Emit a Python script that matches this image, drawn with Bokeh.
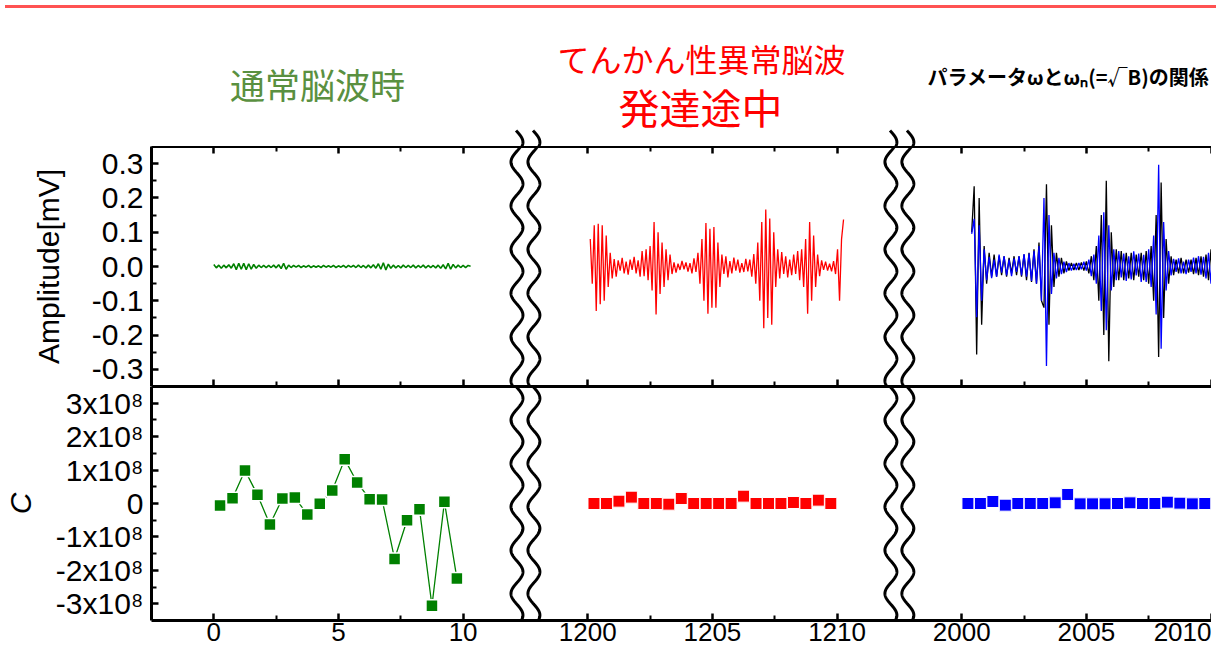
import numpy as np
from bokeh.plotting import figure
from bokeh.models import (Range1d, LinearAxis, FixedTicker, CustomJSTickFormatter,
                          Label, Div)
from bokeh.layouts import column
from bokeh.embed import file_html
from bokeh.resources import INLINE

# ---------------- data ----------------
# broken time axis: three segments, each drawn at its own display offset
SEG_STARTS = [0.0, 1200.0, 2000.0]
SEG_SHIFT = [0.0, 15.0, 30.0]
BREAKS = [12.5, 27.5]

X_MAJOR = [0, 5, 10, 1200, 1205, 1210, 2000, 2005, 2010]
X_MINOR = [2.5, 7.5, 1202.5, 1207.5, 2002.5, 2007.5]
AMP_TICKS = [-0.3, -0.2, -0.1, 0.0, 0.1, 0.2, 0.3]
AMP_MINOR = [-0.25, -0.15, -0.05, 0.05, 0.15, 0.25]
C_TICKS = [-3e8, -2e8, -1e8, 0.0, 1e8, 2e8, 3e8]
C_MINOR = [-2.5e8, -1.5e8, -0.5e8, 0.5e8, 1.5e8, 2.5e8]

# normal EEG (green)
normal_t0, normal_dt = 0.0, 0.1
normal_amp = [0.006, -0.004, 0.004, -0.005, 0.004, -0.004, 0.005, -0.005,
              0.008, -0.009, 0.009, -0.008, 0.009, -0.009, 0.008, -0.008, 0.006, -0.005,
              0.004, -0.003, 0.003, -0.003, 0.003, -0.003, 0.004, -0.004, 0.005, -0.006,
              0.009, -0.008, 0.004,
              -0.003, 0.003, -0.002, 0.003, -0.003, 0.002, -0.002, 0.003, -0.003, 0.002,
              -0.002, 0.002, -0.003, 0.003, -0.002, 0.002, -0.002, 0.003, -0.003, 0.002,
              -0.002, 0.003, -0.003, 0.003, -0.002, 0.003, -0.003, 0.004, -0.003, 0.003,
              -0.004, 0.004, -0.004, 0.005, -0.005,
              0.008, -0.008, 0.011, -0.010, 0.007, -0.005,
              0.004, -0.004, 0.003, -0.004, 0.004, -0.003, 0.003, -0.003, 0.004, -0.004,
              0.003, -0.003, 0.004, -0.004, 0.003, -0.003, 0.003, -0.004, 0.004, -0.005, 0.005,
              -0.007, 0.009, -0.008, 0.006,
              -0.004, 0.004, -0.003, 0.003, -0.003, 0.003, 0.001]

# epileptic EEG during development (red)
epi_t0, epi_dt = 1200.1, 0.08
epi_amp = [0.08, -0.05, 0.12, -0.13, 0.125, -0.11, 0.12, -0.10, 0.09, -0.06,
           0.04, -0.035, 0.022, -0.03, 0.018, -0.012, 0.025, -0.02, 0.014, -0.024,
           0.02, -0.01, 0.028, -0.02, 0.018, -0.03, 0.045, -0.028,
           0.05, -0.04, 0.06, -0.07, 0.13, -0.14, 0.10, -0.08, 0.07, -0.06, 0.05, -0.04, 0.035,
           -0.022, 0.012, -0.018, 0.008, -0.01, 0.016, -0.008, 0.012, -0.015, 0.01, -0.02, 0.024, -0.016,
           0.04, -0.05, 0.08, -0.10, 0.127, -0.138, 0.11, -0.12, 0.115, -0.12, 0.07, -0.06,
           0.035, -0.022, 0.03, -0.032, 0.016, -0.02, 0.026, -0.012, 0.02, -0.018, 0.01, -0.016,
           0.022, -0.014, 0.02, -0.03, 0.036,
           -0.05, 0.07, -0.10, 0.13, -0.18, 0.166, -0.15, 0.14, -0.17, 0.10, -0.06,
           0.05, -0.035, 0.042, -0.022, 0.03, -0.032, 0.02, -0.025, 0.035, -0.022, 0.045, -0.04, 0.05,
           -0.06, 0.08, -0.138, 0.13, -0.10, 0.09, -0.06,
           0.035, -0.028, 0.018, -0.01, 0.014, -0.012, 0.008, -0.014, 0.016, -0.022,
           0.05, -0.10, 0.08, 0.137]

# parameter fit: measured (black) and model (blue)
par_t0, par_dt = 2000.4, 0.1
par_eeg = [0.10, 0.234, -0.257, 0.20, -0.17, 0.06,
           -0.05, 0.04, -0.03, 0.035, -0.03, 0.03, -0.025, 0.03, -0.03, 0.025,
           -0.02, 0.03, -0.025, 0.03, -0.03, 0.035, -0.04, 0.04, -0.045, 0.05,
           -0.05, 0.07, -0.10, -0.12, 0.24, -0.17, 0.12, -0.06,
           0.04, -0.03, 0.025, -0.02, 0.015, -0.012, 0.01, -0.01, 0.01, -0.01,
           0.012, -0.012, 0.015, -0.02, 0.03, -0.04,
           0.06, -0.10, 0.15, -0.20, 0.25, -0.276, 0.10,
           -0.06, 0.05, -0.04, 0.045, -0.04, 0.04, -0.035, 0.04, -0.04, 0.035,
           -0.03, 0.04, -0.04, 0.045, -0.05, 0.06,
           -0.10, 0.15, -0.264, 0.245, -0.15, 0.08,
           -0.05, 0.03, -0.025, 0.02, -0.02, 0.025, -0.02, 0.02, -0.018, 0.02,
           -0.022, 0.025, -0.025, 0.03, -0.03, 0.035, -0.04,
           0.05, -0.10, 0.12, -0.20]
par_fit = [0.095, 0.139, -0.148, 0.12, -0.10, 0.05,
           -0.04, 0.028, -0.034, 0.02, -0.03, 0.035, -0.018, 0.03, -0.026, 0.02,
           -0.028, 0.024, -0.016, 0.03, -0.026, 0.036, -0.03, 0.038, -0.042, 0.045,
           -0.05, 0.06, -0.10, 0.20, -0.29, 0.15, -0.08, 0.04,
           -0.035, 0.025, -0.022, 0.014, -0.016, 0.01, -0.012, 0.008, -0.01, 0.01,
           -0.008, 0.014, -0.012, 0.02, -0.028, 0.035,
           -0.05, 0.09, -0.13, 0.158, -0.186, 0.12, -0.07,
           0.05, -0.04, 0.045, -0.032, 0.038, -0.042, 0.03, -0.038, 0.044, -0.026,
           0.038, -0.045, 0.034, -0.045, 0.05, -0.06,
           0.09, -0.14, 0.297, -0.24, 0.13, -0.07,
           0.045, -0.026, 0.022, -0.016, 0.024, -0.02, 0.014, -0.022, 0.02, -0.016,
           0.026, -0.02, 0.03, -0.024, 0.028, -0.035, 0.04,
           -0.05, 0.09, -0.11, 0.13]

# parameter C
c_normal_t = [0.25, 0.75, 1.25, 1.75, 2.25, 2.75, 3.25, 3.75, 4.25, 4.75,
              5.25, 5.75, 6.25, 6.75, 7.25, 7.75, 8.25, 8.75, 9.25, 9.75]
c_normal = [-0.06e8, 0.16e8, 0.99e8, 0.26e8, -0.63e8, 0.15e8, 0.18e8, -0.33e8, -0.01e8, 0.39e8,
            1.32e8, 0.63e8, 0.13e8, 0.12e8, -1.66e8, -0.50e8, -0.17e8, -3.06e8, 0.05e8, -2.24e8]
c_epi_t = [1200.25, 1200.75, 1201.25, 1201.75, 1202.25, 1202.75, 1203.25, 1203.75, 1204.25, 1204.75,
           1205.25, 1205.75, 1206.25, 1206.75, 1207.25, 1207.75, 1208.25, 1208.75, 1209.25, 1209.75]
c_epi = [0.0, 0.0, 0.07e8, 0.19e8, 0.0, 0.0, -0.02e8, 0.15e8, 0.0, 0.0,
         0.0, 0.0, 0.22e8, 0.0, 0.0, 0.0, 0.03e8, 0.0, 0.10e8, 0.0]
c_par_t = [2000.25, 2000.75, 2001.25, 2001.75, 2002.25, 2002.75, 2003.25, 2003.75, 2004.25, 2004.75,
           2005.25, 2005.75, 2006.25, 2006.75, 2007.25, 2007.75, 2008.25, 2008.75, 2009.25, 2009.75]
c_par = [0.0, 0.0, 0.06e8, -0.05e8, 0.0, 0.0, 0.0, 0.02e8, 0.27e8, -0.01e8,
         -0.01e8, -0.01e8, 0.0, 0.02e8, 0.0, 0.0, 0.04e8, 0.01e8, -0.01e8, 0.0]

TITLE_NORMAL = "通常脳波時"
TITLE_EPI_1 = "てんかん性異常脳波"
TITLE_EPI_2 = "発達途中"
TITLE_PAR = "パラメータωとωₙ(=√B)の関係"

# ---------------- styles / layout ----------------
GREEN, RED, BLUE, BLACK = "#008000", "#ff0000", "#0000ff", "#000000"
TICK_FONT = "Liberation Sans"
CJK_FONT = "Noto Sans CJK JP"
W = 1211
LEFT = 148
PX_PER_UNIT = 25.0
X_START = -2.5
BAR_H = 3
TITLE_H = 133
TOP_H = 240
BOT_H = 266
BOT_AXIS = 32


def seg_of(t):
    return 0 if t < 600 else (1 if t < 1600 else 2)


def disp(t):
    t = np.asarray(t, dtype=float)
    s = seg_of(float(t.flat[0]))
    return t - SEG_STARTS[s] + SEG_SHIFT[s]


def times(t0, dt, vals):
    return t0 + dt * np.arange(len(vals))


x_range = Range1d(X_START, X_START + (W - LEFT) / PX_PER_UNIT)

x_ticker = FixedTicker(ticks=[float(disp([t])[0]) for t in X_MAJOR],
                       minor_ticks=[float(disp([t])[0]) for t in X_MINOR])
x_fmt = CustomJSTickFormatter(args=dict(starts=SEG_STARTS, shifts=SEG_SHIFT, breaks=BREAKS), code="""
    let s = 0;
    for (let i = 0; i < breaks.length; i++) { if (tick > breaks[i]) s = i + 1; }
    const v = tick - shifts[s] + starts[s];
    return String(Math.round(v * 100) / 100);
""")
blank_fmt = CustomJSTickFormatter(code="return '';")
amp_fmt = CustomJSTickFormatter(code="return tick.toFixed(1);")
c_fmt = CustomJSTickFormatter(code="""
    if (Math.abs(tick) < 1) return "0";
    return (tick / 1e8).toFixed(0) + "x10\u2078";
""")


def style_axis(ax, labels=True, ticks=True, size="30px"):
    ax.axis_line_width = 3
    ax.axis_line_color = BLACK
    ax.major_tick_out = 0
    ax.minor_tick_out = 0
    ax.major_tick_in = 7 if ticks else 0
    ax.minor_tick_in = 5 if ticks else 0
    ax.major_tick_line_width = 2.5
    ax.minor_tick_line_width = 2
    ax.major_tick_line_color = BLACK
    ax.minor_tick_line_color = BLACK
    ax.major_label_text_font = TICK_FONT
    ax.major_label_text_color = BLACK
    ax.axis_label_text_color = BLACK
    ax.axis_label_text_font = TICK_FONT
    if labels:
        ax.major_label_text_font_size = size
    else:
        ax.formatter = blank_fmt
        ax.major_label_text_font_size = "1px"
        ax.major_label_standoff = 0


def add_breaks(p, ys, abs_y):
    for b in BREAKS:
        for side in (-1, 1):
            xs = b + side * 0.34 + 0.24 * np.sin(2 * np.pi * abs_y / 43.0)
            p.line(xs, ys, line_color=BLACK, line_width=3)


def base_fig(height, y_range, **kw):
    p = figure(width=W, height=height, x_range=x_range, y_range=y_range,
               output_backend="svg", toolbar_location=None,
               min_border_left=LEFT, min_border_right=0,
               background_fill_color="white", border_fill_color="white",
               outline_line_color=None, **kw)
    p.grid.visible = False
    return p


# ---------------- title strip ----------------
pt = base_fig(TITLE_H, Range1d(0, TITLE_H), min_border_top=0, min_border_bottom=0,
              x_axis_location=None, y_axis_location=None)
tops = np.linspace(0, 16, 40)
add_breaks(pt, tops, (BAR_H + TITLE_H + 8) - tops)
pt.add_layout(Label(x=166, y=63, x_units="screen", y_units="screen", text=TITLE_NORMAL,
                    text_font=CJK_FONT, text_font_size="35px", text_color="#5a9040",
                    text_align="center", text_baseline="middle"))
pt.add_layout(Label(x=550, y=89, x_units="screen", y_units="screen", text=TITLE_EPI_1,
                    text_font=CJK_FONT, text_font_size="32px", text_color=RED,
                    text_align="center", text_baseline="middle"))
pt.add_layout(Label(x=549, y=41, x_units="screen", y_units="screen", text=TITLE_EPI_2,
                    text_font=CJK_FONT, text_font_size="41px", text_color=RED,
                    text_align="center", text_baseline="middle"))
pt.add_layout(Label(x=776, y=70, x_units="screen", y_units="screen", text=TITLE_PAR,
                    text_font=CJK_FONT, text_font_size="20px", text_font_style="bold",
                    text_color=BLACK, text_align="left", text_baseline="middle"))

# ---------------- top panel ----------------
p1 = base_fig(TOP_H, Range1d(-0.35, 0.35), min_border_top=0, min_border_bottom=0)
xa = p1.xaxis[0]
xa.ticker = x_ticker
style_axis(xa, labels=False)
top_ax = LinearAxis(ticker=x_ticker)
style_axis(top_ax, labels=False)
p1.add_layout(top_ax, "above")
ya = p1.yaxis[0]
style_axis(ya)
ya.ticker = FixedTicker(ticks=AMP_TICKS, minor_ticks=AMP_MINOR)
ya.formatter = amp_fmt
ya.major_label_standoff = 8
ya.axis_label = "Amplitude[mV]"
ya.axis_label_text_font_size = "30px"
ya.axis_label_text_font_style = "normal"
ya.axis_label_standoff = 24

p1.line(disp(times(normal_t0, normal_dt, normal_amp)), normal_amp, line_color=GREEN, line_width=1.6)
p1.line(disp(times(epi_t0, epi_dt, epi_amp)), epi_amp, line_color=RED, line_width=1.3)
p1.line(disp(times(par_t0, par_dt, par_eeg)), par_eeg, line_color=BLACK, line_width=1.3)
p1.line(disp(times(par_t0, par_dt, par_fit)), par_fit, line_color=BLUE, line_width=1.3)
ys1 = np.linspace(-0.35, 0.35, 400)
add_breaks(p1, ys1, 146 + (0.35 - ys1) / 0.7 * 236)

# ---------------- bottom panel ----------------
p2 = base_fig(BOT_H, Range1d(-3.5e8, 3.5e8), min_border_top=0, min_border_bottom=BOT_AXIS)
xb = p2.xaxis[0]
style_axis(xb, size="26px")
xb.ticker = x_ticker
xb.formatter = x_fmt
xb.major_label_standoff = 2
top_ax2 = LinearAxis(ticker=x_ticker)
style_axis(top_ax2, labels=False, ticks=False)
p2.add_layout(top_ax2, "above")
yc = p2.yaxis[0]
style_axis(yc)
yc.ticker = FixedTicker(ticks=C_TICKS, minor_ticks=C_MINOR)
yc.formatter = c_fmt
yc.major_label_standoff = 8
yc.axis_label = "C"
yc.axis_label_text_font_size = "30px"
yc.axis_label_text_font_style = "italic"
yc.axis_label_standoff = 16

p2.line(disp(c_normal_t), c_normal, line_color=GREEN, line_width=1.3)
p2.scatter(disp(c_normal_t), c_normal, marker="square", size=12, fill_color=GREEN,
           line_color="white", line_width=1.5)
p2.scatter(disp(c_epi_t), c_epi, marker="square", size=12, fill_color=RED,
           line_color="white", line_width=1)
p2.scatter(disp(c_par_t), c_par, marker="square", size=12, fill_color=BLUE,
           line_color="white", line_width=1)
ys2 = np.linspace(-3.5e8, 3.5e8, 400)
add_breaks(p2, ys2, 386 + (3.5e8 - ys2) / 7e8 * 232)

bar = Div(width=W, height=BAR_H, styles={"background-color": "#ff5252"})
layout = column(bar, pt, p1, p2)

open("out.html", "w").write(file_html(layout, INLINE))
